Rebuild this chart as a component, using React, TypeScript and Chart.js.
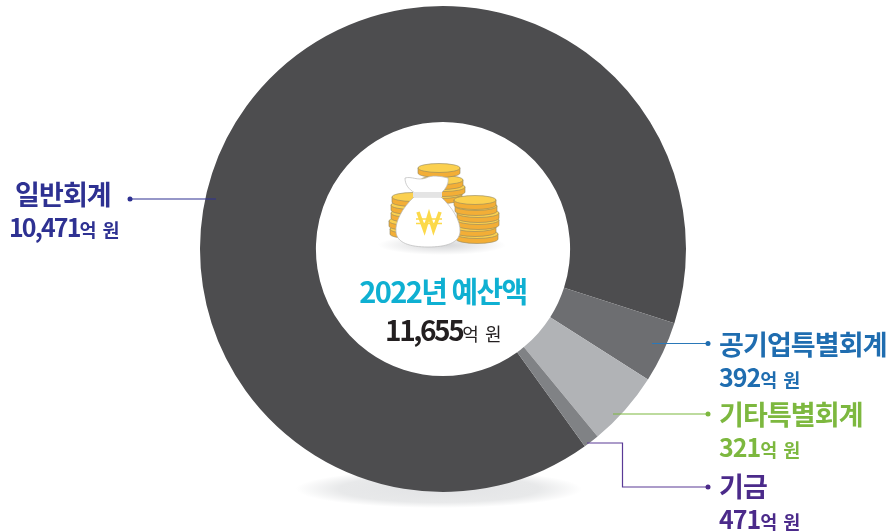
import React, { useEffect, useRef } from "react";
import { Chart, registerables } from "chart.js";

Chart.register(...registerables);

const categories = ["일반회계", "공기업특별회계", "기타특별회계", "기금"];
// Amounts printed on the picture (억 원)
const printedAmounts = ["10,471", "392", "321", "471"];
// Slice sizes as drawn in the picture (degrees of arc, which are not proportional to the printed amounts)
const drawnArc = [323.5, 14.7, 18, 3.8];
const sliceColors = ["#4d4d4f", "#6d6e71", "#b1b3b6", "#808285"];
const totalLabel = "11,655";
const titleLabel = "2022년 예산액";
const FONT = '"Noto Sans CJK KR", "Noto Sans", sans-serif';

type Lab = { i: number; x: number; y: number; color: string };
const labels: Lab[] = [
  { i: 0, x: 15, y: 176, color: "#2e3192" },
  { i: 1, x: 719, y: 326, color: "#1f6db0" },
  { i: 2, x: 719, y: 396, color: "#7db83f" },
  { i: 3, x: 719, y: 468, color: "#4b2a8a" },
];

function Coin({ cx, y, rx = 21 }: { cx: number; y: number; rx?: number }) {
  const ry = 4.5;
  const h = 5;
  return (
    <g stroke="#8f8460" strokeWidth={0.6}>
      <path
        d={`M${cx - rx} ${y} v${h} a${rx} ${ry} 0 0 0 ${rx * 2} 0 v${-h} Z`}
        fill="#f3ae36"
      />
      <ellipse cx={cx} cy={y} rx={rx} ry={ry} fill="#fbd04f" />
    </g>
  );
}

function Icon() {
  const coins: [number, number][] = [
    [411, 229], [410, 221], [412, 213], [412, 205], [413, 197],
    [441, 194], [444, 187], [442, 180], [439, 168],
    [477, 234], [475, 227], [478, 220], [478, 213], [476, 206], [475, 200],
  ];
  return (
    <>
      <ellipse cx={442} cy={245} rx={64} ry={10} fill="url(#iconShadow)" />
      {coins.map(([cx, y], k) => (
        <Coin key={k} cx={cx} y={y} />
      ))}
      <path
        d="M415 193 C408 189 405 184 405 178 C412 176 417 181 426 178 C432 175 440 176 448 178 C449 183 446 189 441 193 Z"
        fill="#fff"
        stroke="#b9b9b9"
        strokeWidth={0.7}
      />
      <path
        d="M414 197 C402 208 395 222 396 232 C397 243 410 247 428 247 C446 247 459 243 460 232 C461 221 452 207 441 197 Z"
        fill="#fff"
        stroke="#b9b9b9"
        strokeWidth={0.7}
      />
      <rect x={413} y={192} width={29} height={5} fill="#e4e4e4" />
      <g stroke="#fcd94a" fill="none">
        <path d="M418 212 L424.5 230 L429 215 L433.5 230 L440 212" strokeWidth={3.6} />
        <path d="M416 219 H442 M416 223.5 H442" strokeWidth={1.6} />
      </g>
    </>
  );
}

export default function App() {
  const ref = useRef<HTMLCanvasElement>(null);
  useEffect(() => {
    const chart = new Chart(ref.current!, {
      type: "doughnut",
      data: {
        labels: categories,
        datasets: [
          {
            data: drawnArc,
            backgroundColor: sliceColors,
            borderWidth: 0,
          },
        ],
      },
      options: {
        responsive: false,
        animation: false,
        rotation: 144.3,
        cutout: "52.3%",
        layout: { padding: { left: 200, right: 204, top: 6, bottom: 39 } },
        plugins: { legend: { display: false }, tooltip: { enabled: false } },
      },
    });
    return () => chart.destroy();
  }, []);

  const abs: React.CSSProperties = { position: "absolute", left: 0, top: 0 };
  return (
    <div style={{ position: "fixed", left: 0, top: 0, width: 890, height: 531, background: "#fff", overflow: "hidden", fontFamily: FONT }}>
      <svg width={890} height={531} style={abs}>
        <defs>
          <radialGradient id="floorShadow">
            <stop offset="0%" stopColor="#e2e3e5" />
            <stop offset="70%" stopColor="#e8e9ea" />
            <stop offset="100%" stopColor="#ffffff" />
          </radialGradient>
          <radialGradient id="iconShadow">
            <stop offset="0%" stopColor="#d4d5d7" />
            <stop offset="100%" stopColor="#ffffff" />
          </radialGradient>
        </defs>
        <ellipse cx={439} cy={489} rx={143} ry={19} fill="url(#floorShadow)" />
      </svg>
      <canvas ref={ref} width={890} height={531} style={abs} />
      <svg width={890} height={531} style={abs}>
        <Icon />
        <g fill="none" strokeWidth={1.2}>
          <path d="M130 199 H216" stroke="#2e3192" />
          <path d="M652 343.5 H708" stroke="#2a78b8" />
          <path d="M613 414 H708" stroke="#7db83f" />
          <path d="M587 443 H622.5 V487 H708" stroke="#5a3a96" />
        </g>
        <circle cx={130} cy={199} r={2.5} fill="#2e3192" />
        <circle cx={708} cy={343.5} r={2.5} fill="#1f6db0" />
        <circle cx={708} cy={414} r={2.5} fill="#7db83f" />
        <circle cx={708} cy={487} r={2.5} fill="#4b2a8a" />
      </svg>
      <div style={{ position: "absolute", left: 316, width: 254, top: 271, textAlign: "center", fontSize: 29, lineHeight: "38px", fontWeight: 700, letterSpacing: -1.6, color: "#0fb0d2", whiteSpace: "nowrap" }}>
        {titleLabel}
      </div>
      <div style={{ position: "absolute", left: 316, width: 254, top: 311, textAlign: "center", lineHeight: "36px", color: "#231f20", whiteSpace: "nowrap" }}>
        <span style={{ fontSize: 28, fontWeight: 700, letterSpacing: -2.4 }}>{totalLabel}</span>
        <span style={{ fontSize: 18, letterSpacing: -0.5, wordSpacing: 3 }}>억 원</span>
      </div>
      {labels.map((l) => (
        <div key={l.i} style={{ position: "absolute", left: l.x, top: l.y, color: l.color, whiteSpace: "nowrap" }}>
          <div style={{ fontSize: 27, lineHeight: "36px", fontWeight: 700, letterSpacing: -0.9 }}>{categories[l.i]}</div>
          <div style={{ lineHeight: "28px", marginLeft: l.i === 0 ? -6 : 0 }}>
            <span style={{ fontSize: 25, fontWeight: 700, letterSpacing: l.i === 0 ? -1.9 : -1 }}>{printedAmounts[l.i]}</span>
            <span style={{ fontSize: 18.5, fontWeight: 700, letterSpacing: -0.6, wordSpacing: 3 }}>억 원</span>
          </div>
        </div>
      ))}
    </div>
  );
}
